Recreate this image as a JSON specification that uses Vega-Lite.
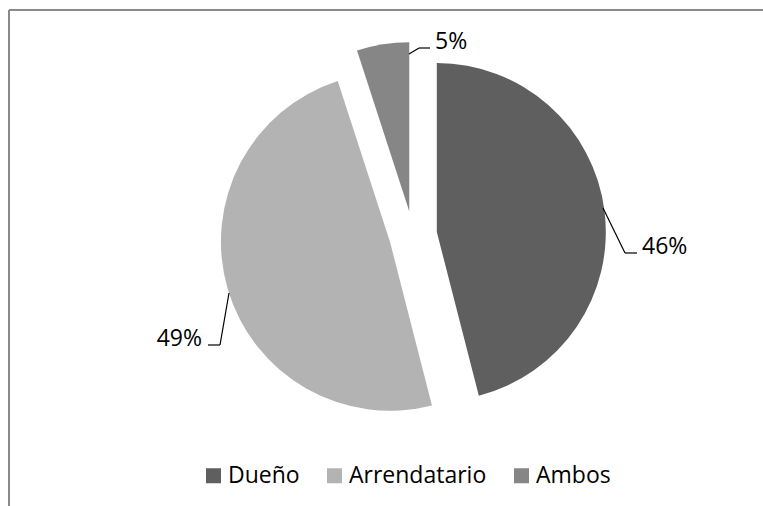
{
  "$schema": "https://vega.github.io/schema/vega-lite/v6.json",
  "width": 754,
  "height": 496,
  "autosize": "none",
  "padding": {"left": 9, "top": 10, "right": 0, "bottom": 0},
  "background": "white",
  "config": {
    "view": {"stroke": null},
    "font": "Open Sans"
  },
  "params": [
    {"name": "cx", "expr": "width/2 + 27"},
    {"name": "cy", "expr": "height/2 - 23"}
  ],
  "data": {
    "values": [
      {"cat": "Dueño", "pct": 46},
      {"cat": "Arrendatario", "pct": 49},
      {"cat": "Ambos", "pct": 5}
    ]
  },
  "transform": [
    {"window": [{"op": "row_number", "as": "idx"}]},
    {"joinaggregate": [{"op": "sum", "field": "pct", "as": "total"}]},
    {"window": [{"op": "sum", "field": "pct", "as": "cum"}], "sort": [{"field": "idx"}], "frame": [null, 0]},
    {"calculate": "2*PI*(datum.cum - datum.pct/2)/datum.total", "as": "mid"},
    {"calculate": "datum.pct + '%'", "as": "etiqueta"},
    {"calculate": "cx + (datum.idx==1 ? 190 : datum.idx==2 ? -184 : -4)", "as": "l_x0"},
    {"calculate": "cy + (datum.idx==1 ? -27 : datum.idx==2 ? 58 : -181)", "as": "l_y0"},
    {"calculate": "cx + (datum.idx==1 ? 212 : datum.idx==2 ? -193 : 6)", "as": "l_x1"},
    {"calculate": "cy + (datum.idx==1 ? 18 : datum.idx==2 ? 110 : -187)", "as": "l_y1"},
    {"calculate": "cx + (datum.idx==1 ? 224 : datum.idx==2 ? -205 : 17)", "as": "l_x2"}
  ],
  "layer": [
    {
      "mark": {"type": "rule", "color": "#8a8a8a", "strokeWidth": 2},
      "encoding": {"y": {"value": 0}}
    },
    {
      "mark": {"type": "rule", "color": "#8a8a8a", "strokeWidth": 2},
      "encoding": {"x": {"value": 0}}
    },
    {
      "mark": {
        "type": "arc",
        "outerRadius": 169,
        "x": {"expr": "cx + 24*sin(datum.mid)"},
        "y": {"expr": "cy - 24*cos(datum.mid)"}
      },
      "encoding": {
        "theta": {"field": "pct", "type": "quantitative", "stack": true},
        "order": {"field": "idx", "type": "quantitative"},
        "color": {
          "field": "cat",
          "type": "nominal",
          "scale": {"domain": ["Dueño", "Arrendatario", "Ambos"], "range": ["#5f5f5f", "#b3b3b3", "#868686"]},
          "legend": {
            "title": null,
            "orient": "none",
            "direction": "horizontal",
            "legendX": 193,
            "legendY": 454,
            "padding": 0,
            "symbolType": "square",
            "symbolSize": 225,
            "symbolStrokeWidth": 0,
            "labelFontSize": 23,
            "labelFont": "Open Sans",
            "labelColor": "#000000",
            "labelOffset": 3,
            "columnPadding": 23
          }
        }
      }
    },
    {
      "mark": {"type": "rule", "color": "#000000", "strokeWidth": 1.2},
      "encoding": {
        "x": {"field": "l_x0", "type": "quantitative", "scale": null},
        "y": {"field": "l_y0", "type": "quantitative", "scale": null},
        "x2": {"field": "l_x1"},
        "y2": {"field": "l_y1"}
      }
    },
    {
      "mark": {"type": "rule", "color": "#000000", "strokeWidth": 1.2},
      "encoding": {
        "x": {"field": "l_x1", "type": "quantitative", "scale": null},
        "y": {"field": "l_y1", "type": "quantitative", "scale": null},
        "x2": {"field": "l_x2"},
        "y2": {"field": "l_y1"}
      }
    },
    {
      "mark": {
        "type": "text",
        "font": "Open Sans",
        "fontSize": 23,
        "color": "#000000",
        "baseline": "alphabetic",
        "align": {"expr": "datum.idx==2 ? 'right' : 'left'"},
        "x": {"expr": "cx + (datum.idx==1 ? 229 : datum.idx==2 ? -211 : 22)"},
        "y": {"expr": "cy + (datum.idx==1 ? 19 : datum.idx==2 ? 111 : -186)"}
      },
      "encoding": {
        "text": {"field": "etiqueta", "type": "nominal"}
      }
    }
  ]
}
